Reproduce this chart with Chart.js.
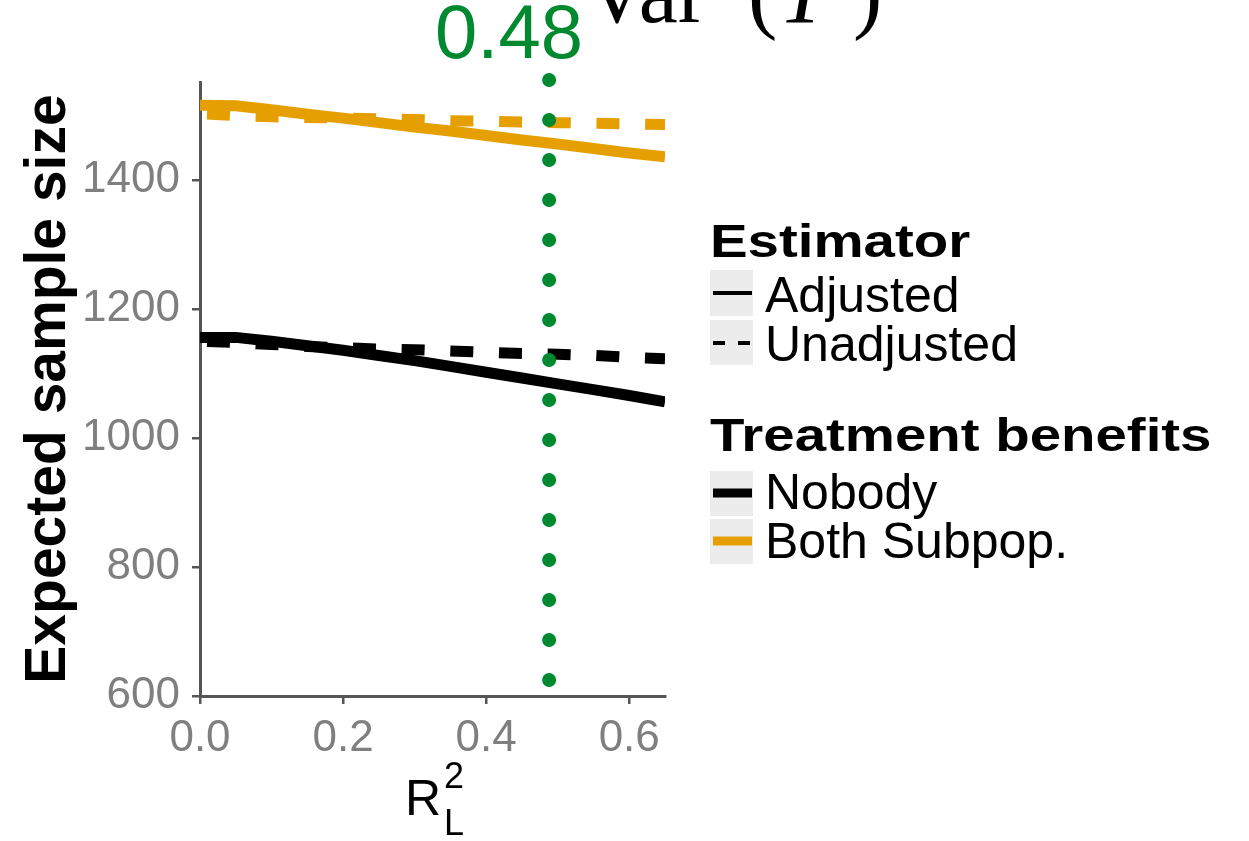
<!DOCTYPE html>
<html>
<head>
<meta charset="utf-8">
<script src="https://cdn.jsdelivr.net/npm/chart.js@4.4.1/dist/chart.umd.min.js"></script>
<style>
  html, body { margin: 0; padding: 0; background: #ffffff; }
  #wrap { position: relative; width: 1249px; height: 841px; }
</style>
</head>
<body>
<div id="wrap"><canvas id="c" width="1249" height="841"></canvas></div>
<script>
// ---------- data ----------
const r2Values        = [0, 0.05, 0.10, 0.15, 0.20, 0.25, 0.30, 0.35, 0.40, 0.45, 0.50, 0.55, 0.60, 0.65];
const bothAdjusted    = [1516, 1515, 1509, 1502, 1496, 1489, 1482, 1476, 1469, 1462, 1456, 1449, 1442, 1436];
const bothUnadjusted  = [1503, 1500, 1498, 1497, 1496, 1495, 1494, 1492, 1491, 1490, 1489, 1488, 1487, 1486];
const nobodyAdjusted  = [1156, 1156, 1150, 1143, 1136, 1128, 1120, 1111, 1102, 1093, 1084, 1075, 1066, 1056];
const nobodyUnadjusted= [1150, 1148, 1145, 1142, 1140, 1138, 1137, 1135, 1133, 1131, 1130, 1128, 1125, 1123];

const xTicks = [0, 0.2, 0.4, 0.6];
const yTicks = [600, 800, 1000, 1200, 1400];

const refX = 0.488;
const refYRange = [1555, 620];
const refLabel = '0.48';

const estimatorTitle  = 'Estimator';
const estimatorLabels = ['Adjusted', 'Unadjusted'];
const benefitTitle    = 'Treatment benefits';
const benefitLabels   = ['Nobody', 'Both Subpop.'];
const benefitColors   = ['#000000', '#E69F00'];
const yTitle = 'Expected sample size';

// ---------- styling ----------
const GREEN = '#00892F';
const AXIS = '#555555';
const TICKTXT = '#7f7f7f';
const SANS = '"Liberation Sans", Arial, Helvetica, sans-serif';
const SERIF = '"Liberation Serif", "Times New Roman", serif';
const DASH = [23, 25.7];
const DASH_OFF = 41.7;
const LW = 11;

const pts = arr => r2Values.map((x, i) => ({x: x, y: arr[i]}));

const overlay = {
  id: 'overlay',
  afterDraw(chart) {
    const ctx = chart.ctx;
    ctx.save();
    ctx.textAlign = 'left';
    ctx.textBaseline = 'alphabetic';

    // top annotation
    ctx.fillStyle = GREEN;
    ctx.font = '76px ' + SANS;
    ctx.fillText(refLabel, 435, 58);

    ctx.fillStyle = '#000';
    ctx.font = '88px ' + SERIF;
    ctx.fillText('Var', 585, 22);
    ctx.fillText('(', 748, 22);
    ctx.font = 'italic 88px ' + SERIF;
    ctx.fillText('Y', 778, 22);
    ctx.font = '88px ' + SERIF;
    ctx.fillText(')', 853, 22);

    // x axis title R_L^2
    ctx.fillStyle = '#000';
    ctx.font = '50px ' + SANS;
    ctx.fillText('R', 405, 815);
    ctx.font = '36px ' + SANS;
    ctx.fillText('2', 444, 788);
    ctx.fillText('L', 444, 835);

    // legend
    const drawTitle = (t, x, y) => {
      ctx.save();
      ctx.translate(x, y);
      ctx.scale(1.2, 1);
      ctx.font = 'bold 47px ' + SANS;
      ctx.fillStyle = '#000';
      ctx.fillText(t, 0, 0);
      ctx.restore();
    };
    const keyBox = (y, h) => {
      ctx.fillStyle = '#ececec';
      ctx.fillRect(710, y, 43, h);
    };
    const keyLine = (y, w, color, dash) => {
      ctx.save();
      ctx.strokeStyle = color;
      ctx.lineWidth = w;
      ctx.lineCap = 'butt';
      ctx.setLineDash(dash || []);
      ctx.beginPath();
      ctx.moveTo(713, y);
      ctx.lineTo(752, y);
      ctx.stroke();
      ctx.restore();
    };
    const label = (t, y) => {
      ctx.fillStyle = '#000';
      ctx.font = '50px ' + SANS;
      ctx.fillText(t, 765, y);
    };

    drawTitle(estimatorTitle, 710, 257);
    keyBox(270, 46);
    keyBox(320, 45);
    keyLine(293, 4, '#000');
    keyLine(343, 4, '#000', [12, 13]);
    label(estimatorLabels[0], 312);
    label(estimatorLabels[1], 361);

    drawTitle(benefitTitle, 710, 451);
    keyBox(471, 45);
    keyBox(519, 45);
    keyLine(493, 9, benefitColors[0]);
    keyLine(541, 9, benefitColors[1]);
    label(benefitLabels[0], 509);
    label(benefitLabels[1], 558);

    ctx.restore();
  }
};

new Chart(document.getElementById('c'), {
  type: 'line',
  data: {
    datasets: [
      { label: 'ref', data: [{x: refX, y: refYRange[0]}, {x: refX, y: refYRange[1]}],
        borderColor: GREEN, borderWidth: 14, borderDash: [0, 40], borderCapStyle: 'round',
        pointRadius: 0, clip: false, order: 0 },
      { label: 'Both Subpop. Adjusted', data: pts(bothAdjusted), borderColor: benefitColors[1],
        borderWidth: LW, pointRadius: 0, order: 1 },
      { label: 'Both Subpop. Unadjusted', data: pts(bothUnadjusted), borderColor: benefitColors[1],
        borderWidth: LW, borderDash: DASH, borderDashOffset: DASH_OFF, pointRadius: 0, order: 1 },
      { label: 'Nobody Adjusted', data: pts(nobodyAdjusted), borderColor: benefitColors[0],
        borderWidth: LW, pointRadius: 0, order: 1 },
      { label: 'Nobody Unadjusted', data: pts(nobodyUnadjusted), borderColor: benefitColors[0],
        borderWidth: LW, borderDash: DASH, borderDashOffset: DASH_OFF, pointRadius: 0, order: 1 }
    ]
  },
  options: {
    responsive: false,
    animation: false,
    devicePixelRatio: 1,
    layout: { padding: { left: 0, right: 584, top: 82, bottom: 0 } },
    plugins: { legend: { display: false }, tooltip: { enabled: false } },
    scales: {
      x: {
        type: 'linear', min: 0, max: 0.65,
        afterBuildTicks: s => { s.ticks = xTicks.map(v => ({value: v})); },
        afterFit: s => { s.height = 145; },
        ticks: { callback: v => Number(v).toFixed(1), color: TICKTXT,
                 font: { family: SANS, size: 44 }, padding: 8, maxRotation: 0, autoSkip: false },
        grid: { display: true, drawOnChartArea: false, drawTicks: true, tickLength: 8,
                color: AXIS, lineWidth: 2.5 },
        border: { display: true, color: AXIS, width: 3 }
      },
      y: {
        type: 'linear', min: 600, max: 1552,
        afterBuildTicks: s => { s.ticks = yTicks.map(v => ({value: v})); },
        afterFit: s => { s.width = 200; },
        ticks: { callback: v => String(v), color: TICKTXT, font: { family: SANS, size: 44 },
                 padding: 12, autoSkip: false },
        grid: { display: true, drawOnChartArea: false, drawTicks: true, tickLength: 8,
                color: AXIS, lineWidth: 2.5 },
        border: { display: true, color: AXIS, width: 3 },
        title: { display: true, text: yTitle, color: '#000',
                 font: { family: SANS, size: 57, weight: 'bold' }, padding: { top: 15, bottom: 0 } }
      }
    }
  },
  plugins: [overlay]
});
</script>
</body>
</html>
